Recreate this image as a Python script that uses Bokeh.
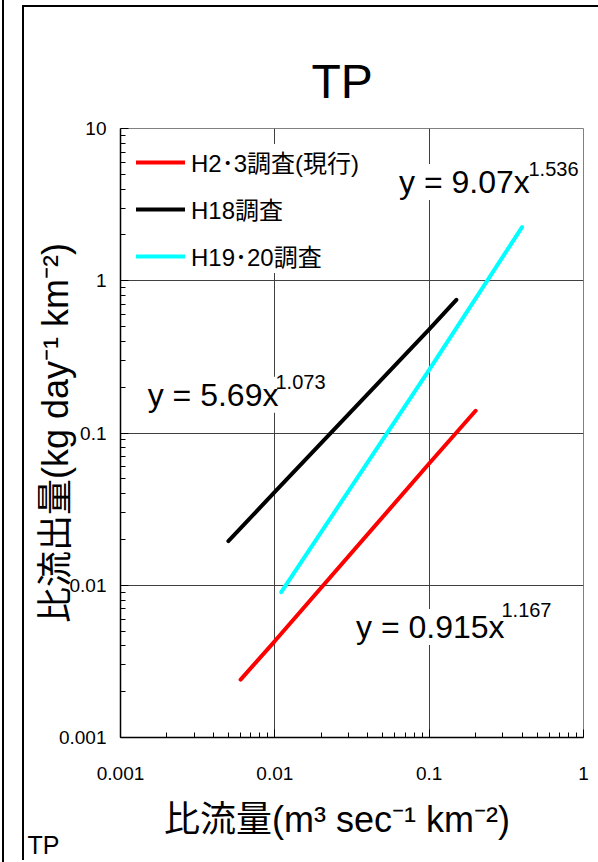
from bokeh.plotting import figure
from bokeh.models import FixedTicker, Label, Div, Title
from bokeh.layouts import row
from bokeh.embed import file_html
from bokeh.resources import INLINE

# ---- data ----
red_x = [0.006, 0.01, 0.1, 0.2]
red_y = [0.0024, 0.0043, 0.063, 0.14]
black_x = [0.005, 0.01, 0.1, 0.15]
black_y = [0.0195, 0.041, 0.48, 0.75]
cyan_x = [0.011, 0.1, 0.4]
cyan_y = [0.009, 0.26, 2.25]
series_names = ["H2･3調査(現行)", "H18調査", "H19･20調査"]
x_ticks = [0.001, 0.01, 0.1, 1]
x_tick_labels = ["0.001", "0.01", "0.1", "1"]
y_ticks = [0.001, 0.01, 0.1, 1, 10]
y_tick_labels = ["0.001", "0.01", "0.1", "1", "10"]
eq_main = ["y = 9.07x", "y = 5.69x", "y = 0.915x"]
eq_power = ["1.536", "1.073", "1.167"]

# ---- layout / styles ----
FONT = "'Liberation Sans', 'Noto Sans CJK JP', sans-serif"
eq_main_pos = [(0.0638, 4.46), (0.0015, 0.178), (0.0336, 0.00532)]
eq_pow_pos = [(0.44, 5.45), (0.0101, 0.217), (0.294, 0.00689)]

FIG_LEFT = 22   # page x of panel frame
FIG_TOP = 5     # page y of panel frame

p = figure(frame_width=461, frame_height=607,
           x_axis_type="log", y_axis_type="log",
           x_range=(0.001, 1), y_range=(0.001, 10),
           output_backend="svg", toolbar_location=None,
           min_border_left=96, min_border_right=17,
           min_border_top=121, min_border_bottom=125,
           margin=(FIG_TOP, 0, 0, FIG_LEFT - 4),
           styles={"border-left": "2px solid black", "border-top": "2px solid black",
                   "box-sizing": "border-box"})

p.title.text = "TP"
p.title.align = "left"
p.title.offset = 191
p.title.text_font = FONT
p.title.text_font_size = "48px"
p.title.text_font_style = "normal"
p.title.text_color = "black"
p.title.standoff = 42

minor_x = [m * 10.0 ** e for e in (-3, -2, -1) for m in range(2, 10)]
minor_y = [m * 10.0 ** e for e in (-3, -2, -1, 0) for m in range(2, 10)]
xt = FixedTicker(ticks=x_ticks, minor_ticks=minor_x)
yt = FixedTicker(ticks=y_ticks, minor_ticks=minor_y)
p.xaxis[0].ticker = xt
p.yaxis[0].ticker = yt
p.xgrid[0].ticker = xt
p.ygrid[0].ticker = yt
p.xaxis[0].major_label_overrides = {t: s for t, s in zip([0.001, 0.01, 0.1, 1], x_tick_labels)}
p.yaxis[0].major_label_overrides = {t: s for t, s in zip([0.001, 0.01, 0.1, 1, 10], y_tick_labels)}

for ax in (p.xaxis[0], p.yaxis[0]):
    ax.axis_line_color = "black"
    ax.axis_line_width = 1.5
    ax.major_tick_in = 8
    ax.major_tick_out = 0
    ax.minor_tick_in = 5
    ax.minor_tick_out = 0
    ax.major_tick_line_color = "black"
    ax.minor_tick_line_color = "black"
    ax.major_label_text_font = FONT
    ax.major_label_text_font_size = "19px"
    ax.major_label_text_color = "black"
    ax.axis_label_text_font = FONT
    ax.axis_label_text_font_size = "36px"
    ax.axis_label_text_font_style = "normal"
    ax.axis_label_text_color = "black"

p.xaxis[0].axis_label = "比流量(m³ sec⁻¹ km⁻²)\u00a0\u00a0\u00a0"
p.yaxis[0].axis_label = "比流出量(kg day⁻¹ km⁻²)"
p.xaxis[0].major_label_standoff = 29
p.yaxis[0].major_label_standoff = 14
p.xaxis[0].axis_label_standoff = 16
p.yaxis[0].axis_label_standoff = -20

for g in (p.xgrid[0], p.ygrid[0]):
    g.grid_line_color = "#404040"
    g.grid_line_width = 1
p.outline_line_color = "#808080"
p.outline_line_width = 1

p.line(red_x, red_y, line_color="#ff0000", line_width=4, line_cap="round", legend_label=series_names[0])
p.line(black_x, black_y, line_color="black", line_width=4, line_cap="round", legend_label=series_names[1])
p.line(cyan_x, cyan_y, line_color="#00ffff", line_width=4, line_cap="round", legend_label=series_names[2])

lg = p.legend[0]
lg.location = "top_left"
lg.margin = 16
lg.padding = 12
lg.spacing = 12
lg.glyph_width = 49
lg.glyph_height = 24
lg.label_height = 24
lg.label_standoff = 6
lg.label_text_font = FONT
lg.label_text_font_size = "24px"
lg.label_text_color = "black"
lg.border_line_color = None
lg.background_fill_color = "white"
lg.background_fill_alpha = 1

for txt, (x, y) in zip(eq_main, eq_main_pos):
    p.add_layout(Label(x=x, y=y, text=txt, text_font=FONT, text_font_size="32px",
                       text_color="black", text_baseline="alphabetic",
                       background_fill_color="white"))
for txt, (x, y) in zip(eq_power, eq_pow_pos):
    p.add_layout(Label(x=x, y=y, text=txt, text_font=FONT, text_font_size="20px",
                       text_color="black", text_baseline="alphabetic",
                       background_fill_color="white"))

# bottom-left caption of the panel
cap = Title(text="TP", align="left", offset=27 - 120, text_font=FONT,
            text_font_size="25px", text_font_style="normal", text_color="black",
            standoff=-28)
p.add_layout(cap, "below")

# border line of the neighbouring panel
left_edge = Div(text="", width=4, height=862, margin=0,
                styles={"border-right": "2px solid black", "box-sizing": "border-box"})

layout = row(left_edge, p)
open("out.html", "w").write(file_html(layout, INLINE))
